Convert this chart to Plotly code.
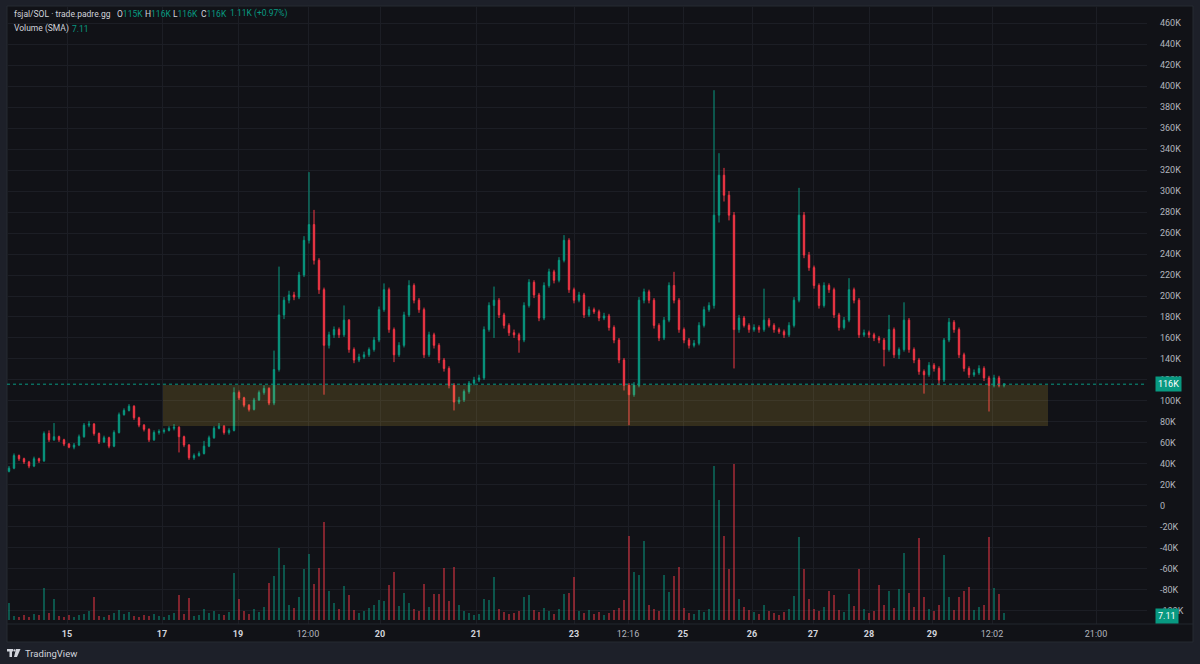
import plotly.graph_objects as go

# ---------------- data (prices in thousands) ----------------
opens = [33,36,48,45,42,38,45,43,69,63,
         66,63,59,56,58,66,77,78,69,61,
         65,57,70,87,91,95,84,77,73,63,
         70,71,72,74,75,66,58,46,48,50,
         57,65,74,76,70,72,108,103,96,92,
         101,108,112,98,130,182,196,201,199,220,
         253,268,234,206,153,163,168,163,177,149,
         139,142,144,149,158,187,206,168,144,153,
         182,210,196,187,144,163,153,139,131,115,
         99,101,109,117,120,122,168,191,196,182,
         172,165,163,158,191,213,201,179,210,223,
         215,234,253,206,196,201,182,187,185,179,
         181,170,158,139,115,106,115,196,204,196,
         172,160,177,210,196,168,158,153,155,172,
         187,191,277,315,296,277,168,179,172,168,
         170,168,177,172,168,166,163,172,196,277,
         239,227,210,191,210,206,182,170,177,206,
         196,163,165,163,160,158,149,168,144,149,
         177,149,139,128,125,134,131,120,158,175,
         168,144,131,125,127,131,122,115,122,115]

highs = [38,50,49,46,43,47,46,71,72,79,
         67,64,60,60,68,79,81,79,70,67,
         66,72,89,93,97,96,85,78,74,72,
         73,74,76,78,76,67,59,50,52,62,
         67,76,79,77,74,113,110,104,97,103,
         110,115,113,148,228,199,205,204,223,257,
         318,282,236,208,166,171,170,191,178,151,
         145,147,151,161,190,212,208,170,156,185,
         215,212,198,189,166,165,155,141,133,117,
         104,111,119,123,125,171,194,209,198,184,
         174,168,165,194,216,215,203,213,226,225,
         237,258,255,208,204,203,190,189,187,184,
         183,172,160,141,117,118,199,207,206,198,
         174,180,213,223,198,170,160,158,175,190,
         194,396,336,322,300,280,182,181,174,173,
         172,207,179,174,170,168,175,199,303,280,
         242,229,212,213,212,208,184,180,217,208,
         198,168,167,165,162,160,182,170,151,194,
         179,151,141,130,137,136,133,160,179,177,
         170,146,133,130,134,133,124,125,124,117]

lows = [32,35,43,40,36,37,41,42,61,62,
        61,57,55,54,57,65,75,67,59,60,
        55,56,69,86,90,82,75,71,61,62,
        68,69,71,72,51,56,44,44,47,49,
        56,64,73,68,68,71,101,94,90,91,
        100,106,96,96,128,178,193,196,197,218,
        250,230,202,106,150,160,160,161,146,136,
        137,140,142,147,156,185,165,137,142,151,
        180,193,184,141,142,150,136,128,112,91,
        97,99,107,115,118,120,166,160,179,169,
        162,160,146,156,189,198,176,177,208,212,
        213,232,203,193,194,179,180,183,176,177,
        167,155,136,110,77,104,113,193,193,169,
        157,158,175,193,165,155,150,151,153,170,
        185,188,270,290,272,131,165,170,165,166,
        165,166,170,165,164,160,161,170,194,236,
        224,207,188,189,203,179,167,168,175,193,
        160,161,160,157,155,133,147,141,140,147,
        146,136,125,107,123,128,115,118,156,165,
        141,128,122,123,125,119,90,113,113,113]

closes = [36,48,45,42,38,45,43,69,63,66,
          63,59,56,58,66,77,78,69,61,65,
          57,70,87,91,95,84,77,73,63,70,
          71,72,74,75,66,58,46,48,50,57,
          65,74,76,70,72,108,103,96,92,101,
          108,112,98,130,182,196,201,199,220,253,
          268,234,206,153,163,168,163,177,149,139,
          142,144,149,158,187,206,168,144,153,182,
          210,196,187,144,163,153,139,131,115,99,
          101,109,117,120,122,168,191,196,182,172,
          165,163,158,191,213,201,179,210,223,215,
          234,253,206,196,201,182,187,185,179,181,
          170,158,139,115,106,115,196,204,196,172,
          160,177,210,196,168,158,153,155,172,187,
          191,277,315,296,277,168,179,172,168,170,
          168,177,172,168,166,163,172,196,277,239,
          227,210,191,210,206,182,170,177,206,196,
          163,165,163,160,158,149,168,144,149,177,
          149,139,128,125,134,131,120,158,175,168,
          144,131,125,127,131,122,115,122,115,116]

volumes = [34,8,6,10,5,12,9,62,14,40,
           8,6,10,5,9,12,18,44,7,6,
           9,14,20,11,16,8,6,10,7,12,
           8,6,9,14,48,12,42,8,10,22,
           14,18,12,9,16,92,40,18,12,22,
           16,26,72,86,140,108,30,24,44,100,
           128,70,102,192,56,34,22,66,48,20,
           14,18,24,30,38,36,68,94,28,52,
           34,22,18,70,26,50,50,102,36,104,
           30,18,14,10,12,40,38,84,22,16,
           12,14,18,44,48,20,16,24,18,12,
           22,50,52,84,18,14,20,12,16,10,
           14,20,24,38,164,94,88,154,30,22,
           18,88,54,86,104,24,14,12,20,16,
           22,300,234,164,100,304,40,26,20,16,
           12,30,18,14,10,16,22,46,162,100,
           40,22,18,26,56,48,20,16,50,28,
           100,22,14,18,68,30,56,24,60,130,
           52,26,160,44,22,18,30,126,44,20,
           44,56,64,20,26,30,162,62,50,14]

bar_index = list(range(len(closes)))

time_tick_pos = [11.6, 30.6, 45.8, 59.8, 74.2, 93.4, 113, 123.8, 134.8,
                 148.6, 160.8, 172, 184.6, 196.6, 217.4]
time_tick_labels = ["15", "17", "19", "12:00", "20", "21", "23", "12:16", "25",
                    "26", "27", "28", "29", "12:02", "21:00"]

price_ticks = list(range(-100, 461, 20))

zone_start, zone_end = 30.8, 207.8
zone_low, zone_high = 76.2, 115.2
last_price = 116
last_price_label = "116K"
vol_sma = 7.11

# legend header pieces (label, value) and their left pixel positions
header_title = "fsjal/SOL · trade.padre.gg"
ohlc_labels = ["O", "H", "L", "C"]
ohlc_values = ["115K", "116K", "116K", "116K"]
ohlc_x = [115, 143, 171, 199]
change_text = "1.11K (+0.97%)"

# ---------------- styling ----------------
UP = "#089981"
DOWN = "#f23645"
PANEL = "#111217"
OUTER = "#1d2029"
GRID = "#1c1e25"
TXT = "#d1d4dc"
AXTXT = "#b2b5be"
FONT = "Roboto, Arial, sans-serif"

W, H = 1200, 664
ML, MR, MT, MB = 7, 53, 6, 40
PW, PH = W - ML - MR, H - MT - MB


def px(xp):
    return (xp - ML) / PW


def py(yp):
    return (H - MB - yp) / PH


vol_colors = ["rgba(8,153,129,0.5)" if c >= o else "rgba(242,54,69,0.5)"
              for o, c in zip(opens, closes)]

fig = go.Figure()
fig.add_trace(go.Bar(
    x=bar_index, y=volumes, yaxis="y2", width=0.45,
    marker=dict(color=vol_colors, line=dict(width=0)),
    showlegend=False, hoverinfo="skip"))
fig.add_trace(go.Candlestick(
    x=bar_index, open=opens, high=highs, low=lows, close=closes,
    increasing=dict(line=dict(color=UP, width=1), fillcolor=UP),
    decreasing=dict(line=dict(color=DOWN, width=1), fillcolor=DOWN),
    whiskerwidth=0, showlegend=False))

x_ticktext = []
for lab in time_tick_labels:
    if ":" in lab:
        x_ticktext.append(f"<span style='color:{AXTXT}'>{lab}</span>")
    else:
        x_ticktext.append(f"<b>{lab}</b>")

price_ticktext = ["0" if v == 0 else f"{v}K" for v in price_ticks]

shapes = [
    # chart panel
    dict(type="rect", xref="paper", yref="paper", x0=0, x1=px(1193),
         y0=py(642), y1=1, fillcolor=PANEL,
         line=dict(color="#262a33", width=1), layer="below"),
    # time axis separator
    dict(type="line", xref="paper", yref="paper", x0=0, x1=px(1193),
         y0=0, y1=0, line=dict(color="#23262e", width=1), layer="above"),
    # zone
    dict(type="rect", xref="x", yref="y", x0=zone_start, x1=zone_end,
         y0=zone_low, y1=zone_high, fillcolor="rgba(255,210,60,0.15)",
         line=dict(width=0), layer="above"),
    # last price line
    dict(type="line", xref="paper", yref="y", x0=0, x1=1,
         y0=last_price, y1=last_price,
         line=dict(color=UP, width=1, dash="dot"), layer="above"),
    # logo
    dict(type="rect", xref="paper", yref="paper", x0=px(7), x1=px(13),
         y0=py(651.5), y1=py(649), fillcolor=TXT, line=dict(width=0)),
    dict(type="rect", xref="paper", yref="paper", x0=px(9.5), x1=px(12),
         y0=py(657), y1=py(649), fillcolor=TXT, line=dict(width=0)),
    dict(type="circle", xref="paper", yref="paper", x0=px(13.3), x1=px(15.6),
         y0=py(651.6), y1=py(649.3), fillcolor=TXT, line=dict(width=0)),
    dict(type="path", xref="paper", yref="paper",
         path=f"M {px(16)} {py(649)} L {px(20.5)} {py(649)} L {px(17)} {py(657)} L {px(14)} {py(657)} Z",
         fillcolor=TXT, line=dict(width=0)),
]

LEG_FONT = dict(family=FONT, size=8.5, color=TXT)


def leg(x, y, text):
    return dict(xref="paper", yref="paper", x=px(x), y=py(y), text=text,
                showarrow=False, xanchor="left", yanchor="middle",
                font=LEG_FONT)


annotations = [leg(12, 14, header_title)]
for lab, val, xx in zip(ohlc_labels, ohlc_values, ohlc_x):
    annotations.append(leg(xx, 14, f"{lab}<span style='color:{UP}'>{val}</span>"))
annotations.append(leg(228, 14, f"<span style='color:{UP}'>{change_text}</span>"))
annotations.append(leg(12, 29, "Volume (SMA)"))
annotations.append(leg(70, 29, f"<span style='color:{UP}'>{vol_sma}</span>"))

annotations += [
    dict(xref="paper", yref="y", x=px(1155), y=last_price,
         text=last_price_label, showarrow=False, xanchor="left",
         yanchor="middle", bgcolor=UP, borderpad=2,
         font=dict(family=FONT, size=9, color="#ffffff")),
    dict(xref="paper", yref="y2", x=px(1155), y=vol_sma,
         text=f"{vol_sma}", showarrow=False, xanchor="left",
         yanchor="middle", bgcolor=UP, borderpad=2,
         font=dict(family=FONT, size=9, color="#ffffff")),
    dict(xref="paper", yref="paper", x=px(23), y=py(653),
         text="TradingView", showarrow=False, xanchor="left",
         yanchor="middle", font=dict(family=FONT, size=9.5, color=TXT)),
]

fig.update_layout(
    width=W, height=H,
    margin=dict(l=ML, r=MR, t=MT, b=MB, pad=0),
    paper_bgcolor=OUTER, plot_bgcolor=PANEL,
    bargap=0, boxgap=0.6,
    xaxis=dict(range=[-0.4, 227.6], tickmode="array",
               tickvals=time_tick_pos, ticktext=x_ticktext,
               showgrid=True, gridcolor=GRID, gridwidth=1,
               zeroline=False, showline=False, ticks="",
               ticklabelstandoff=3,
               tickfont=dict(family=FONT, size=9, color=TXT),
               rangeslider=dict(visible=False), fixedrange=True),
    yaxis=dict(side="right", range=[-112.4, 476.2], tickmode="array",
               tickvals=price_ticks, ticktext=price_ticktext,
               showgrid=True, gridcolor=GRID, gridwidth=1,
               zeroline=False, showline=False, ticks="",
               ticklabelstandoff=12,
               tickfont=dict(family=FONT, size=9, color=AXTXT)),
    yaxis2=dict(overlaying="y", range=[-8, 1200], visible=False,
                showgrid=False, zeroline=False),
    shapes=shapes,
    annotations=annotations,
    hovermode=False,
)

fig.write_html("out.html")
